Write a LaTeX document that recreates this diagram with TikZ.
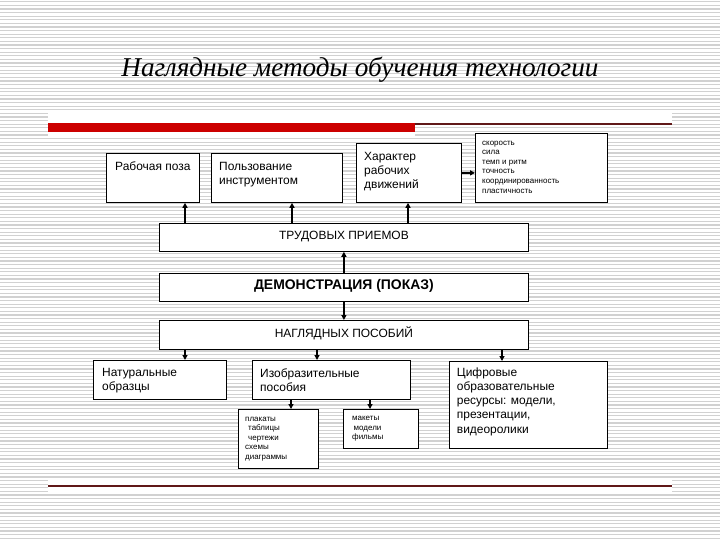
\documentclass[tikz,border=0pt]{standalone}
\usepackage{fontspec}
\setmainfont{Liberation Sans}
\newfontfamily\titlefont{Liberation Serif}
\usetikzlibrary{arrows.meta, positioning}
\definecolor{barred}{RGB}{204,0,0}
\definecolor{ruledark}{RGB}{96,24,24}
\tikzset{
  bx/.style     = {draw=black, fill=white, line width=0.8pt, inner sep=0pt, anchor=north west},
  wide/.style   = {bx, minimum width=369bp, minimum height=28bp, text depth=5bp,
                   font=\fontsize{12}{14}\selectfont},
  lbl/.style    = {anchor=north west, align=left, inner sep=0pt,
                   font=\fontsize{12}{14.3}\selectfont},
  sm/.style     = {anchor=north west, align=left, inner sep=0pt,
                   font=\fontsize{8}{9.6}\selectfont},
  arr/.style    = {-{Triangle[length=5bp, width=5bp]}, line width=1.3pt, draw=black},
  stripe/.style = {draw=black!18, line width=1.3bp},
}

\begin{document}
\begin{tikzpicture}[x=1bp, y=-1bp]
\useasboundingbox (0,0) rectangle (720,540);
% --- slide background: narrow horizontal stripes -------------------------------
\fill[white] (0,0) rectangle (720,540);
\foreach \y in {1.8,5.4,...,540} \draw[stripe] (0,\y) -- (720,\y);
\fill[white] (48,110) rectangle (672,124);
\fill[white] (48,124) rectangle (415,137);
\fill[white] (48,479) rectangle (672,493);

% --- title and the two rules --------------------------------------------------
\node[font=\titlefont\itshape\fontsize{27.3}{32}\selectfont, anchor=base] (title) at (360,77)
  {Наглядные методы обучения технологии};
\fill[barred] (48,123) rectangle (415,132);
\draw[ruledark, line width=1.3bp] (415,124) -- (672,124);
\draw[ruledark, line width=1.3bp] (48,486) -- (672,486);

% --- upper row: what is shown ------------------------------------------------
\node[bx, minimum width=93bp,  minimum height=49bp] (poza) at (106,153) {};
\node[bx, minimum width=131bp, minimum height=49bp] (inst) at (211,153) {};
\node[bx, minimum width=105bp, minimum height=59bp] (har)  at (356,143) {};
\node[bx, minimum width=132bp, minimum height=69bp] (kach) at (475,133) {};
\node[lbl] (poza-t) at ([shift={(9,8.7)}]poza.north west) {Рабочая поза};
\node[lbl] (inst-t) at ([shift={(8,8.7)}]inst.north west) {Пользование\\инструментом};
\node[lbl] (har-t)  at ([shift={(8,8.7)}]har.north west)  {Характер\\рабочих\\движений};
\node[sm]  (kach-t) at ([shift={(7,7.7)}]kach.north west)
  {скорость\\сила\\темп и ритм\\точность\\координированность\\пластичность};

% --- the three wide bars ------------------------------------------------------
\node[wide] (trud) at (159,223) {ТРУДОВЫХ ПРИЕМОВ};
\node[wide, font=\bfseries\fontsize{14}{16}\selectfont] (dem) at (159,273) {ДЕМОНСТРАЦИЯ (ПОКАЗ)};
\node[wide, minimum height=29bp] (nagl) at (159,320) {НАГЛЯДНЫХ ПОСОБИЙ};

% --- lower row: the aids --------------------------------------------------------
\node[bx, minimum width=133bp, minimum height=39bp] (nat)  at (93,360)  {};
\node[bx, minimum width=158bp, minimum height=39bp] (izo)  at (252,360) {};
\node[bx, minimum width=158bp, minimum height=87bp] (cif)  at (449,361) {};
\node[bx, minimum width=80bp,  minimum height=59bp] (plak) at (238,409) {};
\node[bx, minimum width=75bp,  minimum height=39bp] (mak)  at (343,409) {};
\node[lbl] (nat-t)  at ([shift={(9,8.3)}]nat.north west)  {Натуральные\\образцы};
\node[lbl] (izo-t)  at ([shift={(8,8.3)}]izo.north west)  {Изобразительные\\пособия};
\node[lbl] (cif-t)  at ([shift={(7.7,6.3)}]cif.north west)
  {Цифровые\\образовательные\\ресурсы: модели,\\презентации,\\видеоролики};
\node[sm]  (plak-t) at ([shift={(7,7.7)}]plak.north west)
  {плакаты\\\hspace{3bp}таблицы\\\hspace{3bp}чертежи\\схемы\\диаграммы};
\node[sm]  (mak-t)  at ([shift={(9,7)}]mak.north west)
  {макеты\\\hspace{1.5bp}модели\\фильмы};

% --- connectors -----------------------------------------------------------------
\coordinate (xpoza) at (185,0);
\coordinate (xinst) at (292,0);
\coordinate (xhar)  at (408,0);
\coordinate (xnat)  at (185,0);
\coordinate (xizo)  at (317,0);
\coordinate (xcif)  at (502,0);
\coordinate (xplak) at (291,0);
\coordinate (xmak)  at (370,0);
\draw[arr] (trud.north -| xpoza) -- (poza.south -| xpoza);
\draw[arr] (trud.north -| xinst) -- (inst.south -| xinst);
\draw[arr] (trud.north -| xhar)  -- (har.south -| xhar);
\draw[arr] (har.east) -- (har.east -| kach.west);
\draw[arr] (dem.north) -- (trud.south);
\draw[arr] (dem.south) -- (nagl.north);
\draw[arr] (nagl.south -| xnat) -- (nat.north -| xnat);
\draw[arr] (nagl.south -| xizo) -- (izo.north -| xizo);
\draw[arr] (nagl.south -| xcif) -- (cif.north -| xcif);
\draw[arr] (izo.south -| xplak) -- (plak.north -| xplak);
\draw[arr] (izo.south -| xmak)  -- (mak.north -| xmak);
\end{tikzpicture}
\end{document}
